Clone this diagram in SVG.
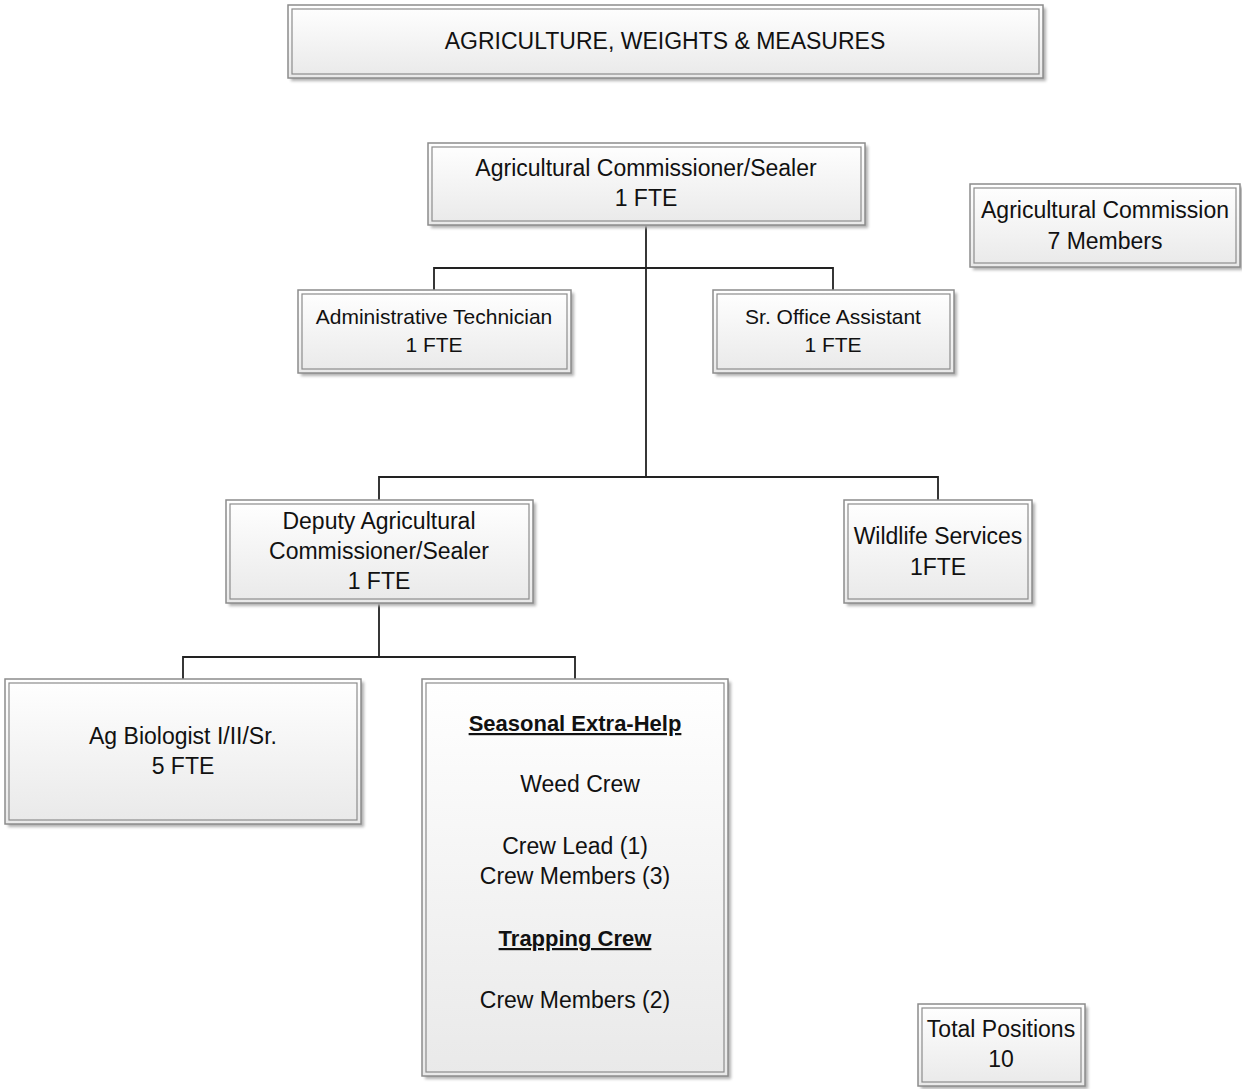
<svg xmlns="http://www.w3.org/2000/svg" width="1242" height="1089" viewBox="0 0 1242 1089">
<defs>
<linearGradient id="g" x1="0" y1="0" x2="0" y2="1">
<stop offset="0" stop-color="#ffffff"/>
<stop offset="1" stop-color="#e9e9e9"/>
</linearGradient>
<filter id="sh" x="-5%" y="-5%" width="115%" height="125%">
<feGaussianBlur stdDeviation="1.5"/>
</filter>
</defs>
<style>
.sh{fill:#b0b0b0;filter:url(#sh)}
.o{fill:url(#g);stroke:#8c8c8c;stroke-width:1.5}
.i{fill:none;stroke:#8c8c8c;stroke-width:1.2}
text{font-family:"Liberation Sans","Noto Sans",sans-serif;fill:#111;text-anchor:middle}
.t22{font-size:23px}
.tt{font-size:23px}
.t19{font-size:21px}
.u{text-decoration:underline;font-weight:bold;font-size:22px}
.c{fill:none;stroke:#222;stroke-width:1.8}
</style>
<rect width="1242" height="1089" fill="#fff"/>
<g id="connectors">
<path class="c" d="M646 225V477M434 290V268H833V290M379 500V477H938V500M379 603V657M183 679V657H575V679"/>
</g>
<g id="title">
<rect class="sh" x="291" y="8" width="755" height="73"/>
<rect class="o" x="288" y="5" width="755" height="73"/>
<rect class="i" x="292" y="9" width="747" height="65"/>
<text class="tt" x="665" y="49">AGRICULTURE, WEIGHTS &amp; MEASURES</text>
</g>
<g id="commissioner">
<rect class="sh" x="431" y="146" width="437" height="82"/>
<rect class="o" x="428" y="143" width="437" height="82"/>
<rect class="i" x="432" y="147" width="429" height="74"/>
<text class="t22" x="646" y="176">Agricultural Commissioner/Sealer</text>
<text class="t22" x="646" y="206">1 FTE</text>
</g>
<g id="commission">
<rect class="sh" x="973" y="187" width="270" height="83"/>
<rect class="o" x="970" y="184" width="270" height="83"/>
<rect class="i" x="974" y="188" width="262" height="75"/>
<text class="t22" x="1105" y="218">Agricultural Commission</text>
<text class="t22" x="1105" y="249">7 Members</text>
</g>
<g id="admin">
<rect class="sh" x="301" y="293" width="273" height="83"/>
<rect class="o" x="298" y="290" width="273" height="83"/>
<rect class="i" x="302" y="294" width="265" height="75"/>
<text class="t19" x="434" y="324">Administrative Technician</text>
<text class="t19" x="434" y="352">1 FTE</text>
</g>
<g id="office">
<rect class="sh" x="716" y="293" width="241" height="83"/>
<rect class="o" x="713" y="290" width="241" height="83"/>
<rect class="i" x="717" y="294" width="233" height="75"/>
<text class="t19" x="833" y="324">Sr. Office Assistant</text>
<text class="t19" x="833" y="352">1 FTE</text>
</g>
<g id="deputy">
<rect class="sh" x="229" y="503" width="307" height="103"/>
<rect class="o" x="226" y="500" width="307" height="103"/>
<rect class="i" x="230" y="504" width="299" height="95"/>
<text class="t22" x="379" y="529">Deputy Agricultural</text>
<text class="t22" x="379" y="559">Commissioner/Sealer</text>
<text class="t22" x="379" y="589">1 FTE</text>
</g>
<g id="wildlife">
<rect class="sh" x="847" y="503" width="188" height="103"/>
<rect class="o" x="844" y="500" width="188" height="103"/>
<rect class="i" x="848" y="504" width="180" height="95"/>
<text class="t22" x="938" y="544">Wildlife Services</text>
<text class="t22" x="938" y="575">1FTE</text>
</g>
<g id="biologist">
<rect class="sh" x="8" y="682" width="356" height="145"/>
<rect class="o" x="5" y="679" width="356" height="145"/>
<rect class="i" x="9" y="683" width="348" height="137"/>
<text class="t22" x="183" y="744">Ag Biologist I/II/Sr.</text>
<text class="t22" x="183" y="774">5 FTE</text>
</g>
<g id="seasonal">
<rect class="sh" x="425" y="682" width="306" height="397"/>
<rect class="o" x="422" y="679" width="306" height="397"/>
<rect class="i" x="426" y="683" width="298" height="389"/>
<text class="u" x="575" y="731">Seasonal Extra-Help</text>
<text class="t22" x="580" y="792">Weed Crew</text>
<text class="t22" x="575" y="854">Crew Lead (1)</text>
<text class="t22" x="575" y="884">Crew Members (3)</text>
<text class="u" x="575" y="946">Trapping Crew</text>
<text class="t22" x="575" y="1008">Crew Members (2)</text>
</g>
<g id="total">
<rect class="sh" x="921" y="1007" width="167" height="82"/>
<rect class="o" x="918" y="1004" width="167" height="82"/>
<rect class="i" x="922" y="1008" width="159" height="74"/>
<text class="t22" x="1001" y="1037">Total Positions</text>
<text class="t22" x="1001" y="1067">10</text>
</g>
</svg>
